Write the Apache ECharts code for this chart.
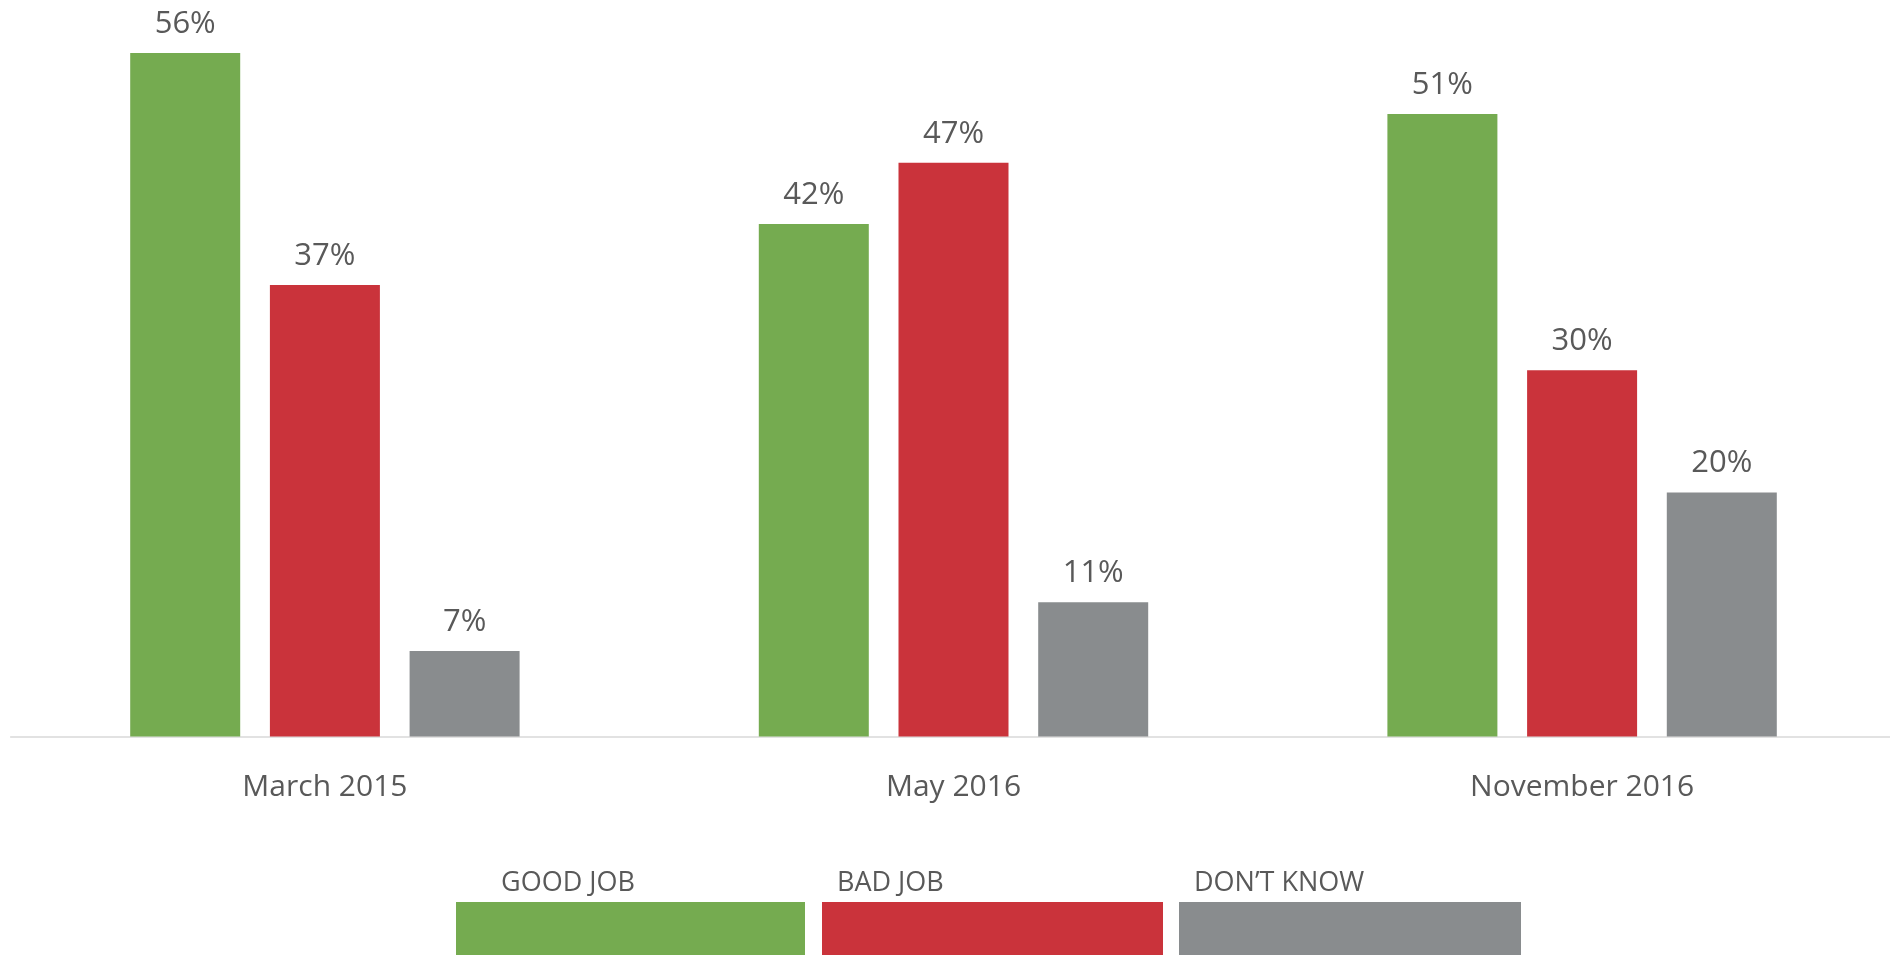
<!DOCTYPE html>
<html>
<head>
<meta charset="utf-8">
<script src="https://cdn.jsdelivr.net/npm/echarts@6/dist/echarts.min.js"></script>
<style>
html,body{margin:0;padding:0;background:#fff;overflow:hidden;}
#chart{width:1900px;height:955px;}
</style>
</head>
<body>
<div id="chart"></div>
<script>
const categories = ['March 2015', 'May 2016', 'November 2016'];
const seriesNames = ['GOOD JOB', 'BAD JOB', 'DON\u2019T KNOW'];
const goodJob = [56, 42, 51];
const badJob = [37, 47, 30];
const dontKnow = [7, 11, 20];
const colors = ['#75ab50', '#ca333b', '#898c8e'];

const seriesData = [goodJob, badJob, dontKnow];
const textColor = '#595959';
const font = '"Open Sans", "Noto Sans", sans-serif';

// legend layout (boxes with label above)
const legendBoxes = [
  { x: 456, w: 349, tx: 501 },
  { x: 822, w: 341, tx: 837 },
  { x: 1179, w: 342, tx: 1194 }
];

const chart = echarts.init(document.getElementById('chart'), null, { renderer: 'canvas' });

const graphics = [];
seriesNames.forEach((name, i) => {
  const b = legendBoxes[i];
  graphics.push({
    type: 'rect',
    shape: { x: b.x, y: 902, width: b.w, height: 60 },
    style: { fill: colors[i] }
  });
  graphics.push({
    type: 'text',
    x: b.tx,
    y: 883.5,
    style: {
      text: name,
      fill: textColor,
      font: '27px ' + font,
      textVerticalAlign: 'middle',
      verticalAlign: 'middle'
    }
  });
});

chart.setOption({
  animation: false,
  backgroundColor: '#ffffff',
  grid: { left: 10.6, width: 1885.8, top: 53, height: 683.5, containLabel: false },
  xAxis: {
    type: 'category',
    data: categories,
    axisTick: { show: false },
    axisLine: { show: true, lineStyle: { color: '#d9d9d9', width: 1.5 } },
    axisLabel: { color: textColor, fontSize: 30, fontFamily: font, margin: 35.5 }
  },
  yAxis: {
    type: 'value',
    min: 0,
    max: 56,
    show: false,
    splitLine: { show: false }
  },
  series: seriesNames.map((name, i) => ({
    name: name,
    type: 'bar',
    data: seriesData[i],
    barWidth: 110,
    barGap: '27%',
    itemStyle: { color: colors[i] },
    label: {
      show: true,
      position: 'top',
      distance: 13.5,
      formatter: '{c}%',
      color: textColor,
      fontSize: 31,
      fontFamily: font
    }
  })),
  graphic: graphics
});
</script>
</body>
</html>
